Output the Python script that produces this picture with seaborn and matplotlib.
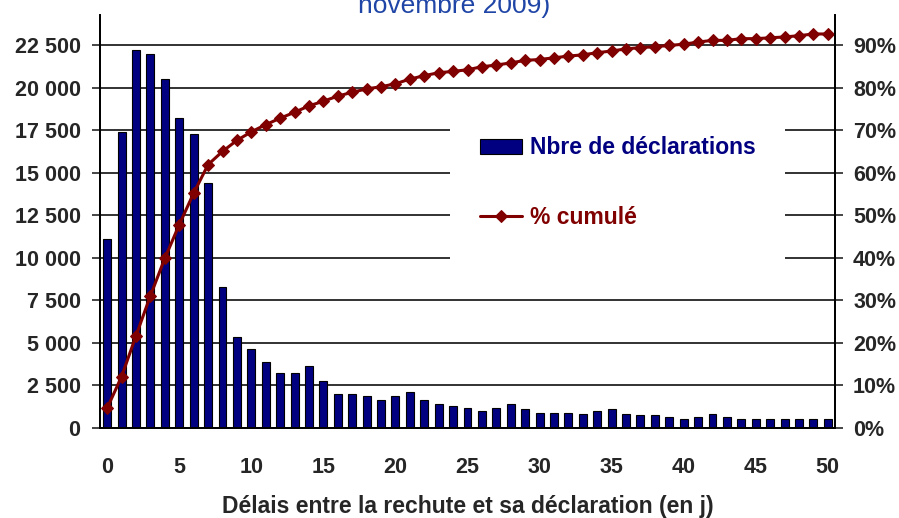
import numpy as np
import matplotlib
matplotlib.use("Agg")
import matplotlib.pyplot as plt
import seaborn as sns

# délai (jours) entre la rechute et sa déclaration
days = list(range(0, 51))
nb_declarations = [11100, 17400, 22200, 22000, 20500, 18200, 17300, 14400, 8300, 5350,
                   4650, 3900, 3250, 3250, 3650, 2750, 2000, 2000, 1900, 1650,
                   1900, 2100, 1650, 1400, 1300, 1200, 1000, 1200, 1400, 1100,
                   900, 900, 900, 800, 1000, 1100, 800, 750, 750, 650,
                   550, 650, 800, 650, 500, 500, 500, 500, 500, 550,
                   500]
pct_cumule = [4.7, 12.1, 21.7, 31.1, 39.9, 47.8, 55.2, 61.9, 65.0, 67.6,
              69.6, 71.3, 72.8, 74.2, 75.7, 76.8, 78.0, 78.9, 79.7, 80.2,
              80.9, 82.0, 82.8, 83.5, 83.8, 84.2, 84.9, 85.3, 85.8, 86.4,
              86.6, 87.0, 87.4, 87.7, 88.2, 88.6, 89.1, 89.4, 89.6, 89.9,
              90.2, 90.7, 91.1, 91.1, 91.5, 91.5, 91.7, 91.9, 92.2, 92.6,
              92.6]

left_ticks = list(range(0, 22501, 2500))
right_ticks = list(range(0, 91, 10))
x_ticks = list(range(0, 51, 5))

BAR_COLOR = "#000080"
LINE_COLOR = "#800000"
TITLE_COLOR = "#1f45a6"

sns.set_style("white")
plt.rcParams['font.family'] = ['Liberation Sans', 'DejaVu Sans']
plt.rcParams['font.weight'] = 'bold'

fig = plt.figure(figsize=(8.99, 5.18), dpi=100)
ax = fig.add_axes([100 / 899, 90 / 518, 735 / 899, 413 / 518])
ax2 = ax.twinx()

sns.barplot(x=days, y=nb_declarations, ax=ax, color=BAR_COLOR, saturation=1,
            edgecolor="black", linewidth=0.8, width=0.55,
            label="Nbre de déclarations")
sns.lineplot(x=days, y=pct_cumule, ax=ax2, color=LINE_COLOR, marker="D",
             markersize=6, markeredgecolor=LINE_COLOR, linewidth=2.2,
             label="% cumulé")

for a in (ax, ax2):
    if a.get_legend() is not None:
        a.get_legend().remove()

ax.set_xlim(-0.5, 50.5)
ax.set_ylim(0, 24265)
ax2.set_ylim(0, 97.06)

# axes et graduations
ax.set_xticks(x_ticks)
ax.set_xticklabels([str(d) for d in x_ticks])
ax.set_xticks(np.arange(-0.5, 51, 1), minor=True)
ax.tick_params(axis="x", which="major", length=0, pad=21, labelsize=15.5)
ax.tick_params(axis="x", which="minor", direction="inout", length=10, width=1.2, color="black")
ax.set_yticks(left_ticks)
ax.set_yticklabels([f"{v:,}".replace(",", " ") for v in left_ticks])
ax.tick_params(axis="y", direction="out", length=6, width=1.2, pad=8, labelsize=15.5, left=True)
ax2.set_yticks(right_ticks)
ax2.set_yticklabels([f"{v}%" for v in right_ticks])
ax2.tick_params(axis="y", direction="out", length=6, width=1.2, pad=7, labelsize=15.5, right=True)

ax.yaxis.grid(True, color="#222222", linewidth=1.3)
ax.set_axisbelow(True)

for a in (ax, ax2):
    a.spines["top"].set_visible(False)
    for s in ("left", "right", "bottom"):
        a.spines[s].set_color("black")
        a.spines[s].set_linewidth(1.3)

ax.set_xlabel("Délais entre la rechute et sa déclaration (en j)", fontsize=16.5, fontweight="bold", labelpad=12)
ax.set_ylabel("")
ax2.set_ylabel("")

h1, l1 = ax.get_legend_handles_labels()
h2, l2 = ax2.get_legend_handles_labels()
leg = ax2.legend(h1 + h2, l1 + l2, loc="upper left",
                 bbox_to_anchor=(439 / 899, 1 - 95 / 518), bbox_transform=fig.transFigure,
                 frameon=True, fancybox=False, framealpha=1, facecolor="white", edgecolor="none",
                 borderpad=1.3, labelspacing=2.05, handlelength=1.8, handleheight=0.62,
                 handletextpad=0.35, prop={'weight': 'bold', 'size': 16.5})
for txt, col in zip(leg.get_texts(), [BAR_COLOR, LINE_COLOR]):
    txt.set_color(col)

fig.text(454 / 899, 1 - 13 / 518, "novembre 2009)", ha="center", va="baseline",
         color=TITLE_COLOR, fontsize=19, fontweight="normal")

fig.savefig("out.png", dpi=100)
